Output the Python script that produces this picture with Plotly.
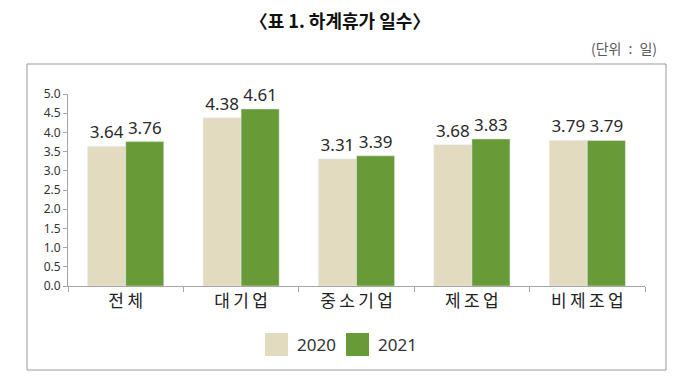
import plotly.graph_objects as go

categories = ["전체", "대기업", "중소기업", "제조업", "비제조업"]
values_2020 = [3.64, 4.38, 3.31, 3.68, 3.79]
values_2021 = [3.76, 4.61, 3.39, 3.83, 3.79]
series_names = ["2020", "2021"]
y_ticks = [0.0, 0.5, 1.0, 1.5, 2.0, 2.5, 3.0, 3.5, 4.0, 4.5, 5.0]

c2020 = "#E2DBBF"
c2021 = "#689A37"
font_cjk = "Noto Sans CJK KR"
W, H = 680, 390


def px(x):
    return x / W


def py(y):
    return 1 - y / H


fig = go.Figure()
for name, vals, col in [(series_names[0], values_2020, c2020), (series_names[1], values_2021, c2021)]:
    fig.add_trace(go.Bar(x=categories, y=vals, name=name, marker_color=col,
                         text=[f"{v:.2f}" for v in vals], textposition="outside",
                         textfont=dict(size=17, color="#2a2a2a", family="Noto Sans"),
                         cliponaxis=False, showlegend=False))

shapes = [dict(type="rect", xref="paper", yref="paper", x0=px(27), x1=px(666),
               y0=py(370), y1=py(64), line=dict(color="#9A9A9A", width=1),
               fillcolor="rgba(0,0,0,0)", layer="below")]
annotations = [dict(text="(단위\u2002:\u2002일)", xref="paper", yref="paper", x=px(659), y=py(48),
                    xanchor="right", yanchor="middle", showarrow=False,
                    font=dict(size=14, family=font_cjk, color="#5a5a5a"))]

# custom legend
for name, col, sx in [(series_names[0], c2020, 265), (series_names[1], c2021, 346)]:
    shapes.append(dict(type="rect", xref="paper", yref="paper", x0=px(sx), x1=px(sx + 23),
                       y0=py(356), y1=py(333), line=dict(width=0), fillcolor=col))
    annotations.append(dict(text=name, xref="paper", yref="paper", x=px(sx + 30), y=py(344),
                            xanchor="left", yanchor="middle", showarrow=False,
                            font=dict(size=17, family="Noto Sans", color="#333333")))

cat_ticktext = ["\u2009".join(list(c)) for c in categories]

fig.update_layout(
    width=W, height=H,
    margin=dict(l=0, r=0, t=0, b=0, autoexpand=False),
    paper_bgcolor="white", plot_bgcolor="white",
    barmode="group", bargap=0.34, bargroupgap=0,
    font=dict(family=font_cjk, color="#333333"),
    showlegend=False,
    title=dict(text="〈표 1. 하계휴가 일수〉", x=0.5, xanchor="center", y=py(22), yanchor="middle",
               font=dict(size=18, family=font_cjk, color="#111111", weight="bold")),
    xaxis=dict(domain=[px(68), px(645)], showline=True, linecolor="#A6A6A6", linewidth=1,
               ticks="outside", tickson="boundaries", ticklen=5, tickcolor="#A6A6A6",
               tickmode="array", tickvals=categories, ticktext=cat_ticktext,
               automargin=False,
               tickfont=dict(size=17, family=font_cjk, color="#222222"), showgrid=False),
    yaxis=dict(domain=[py(286), py(94)], range=[0, 5], tickvals=y_ticks,
               ticktext=[f"{v:.1f}" for v in y_ticks], automargin=False,
               showline=True, linecolor="#A6A6A6", linewidth=1, ticks="outside",
               ticklen=4, tickcolor="#A6A6A6", showgrid=False, zeroline=False,
               tickfont=dict(size=12, family="Noto Sans", color="#333333")),
    annotations=annotations,
    shapes=shapes,
)

fig.write_html("out.html", config={"displayModeBar": False},
               post_script="document.body.style.margin='0';document.body.style.overflow='hidden';")
